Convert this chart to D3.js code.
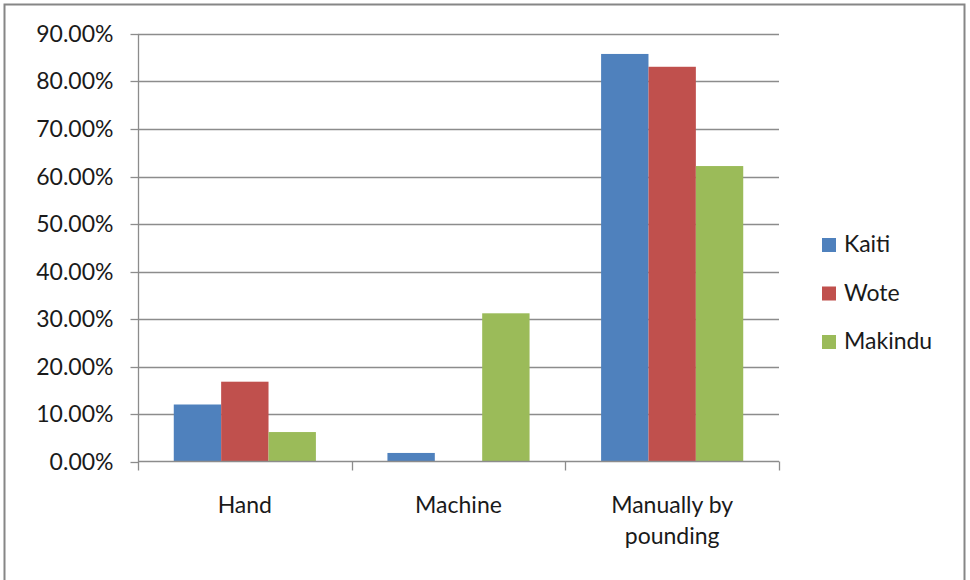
<!DOCTYPE html>
<html><head><meta charset="utf-8">
<script src="https://cdn.jsdelivr.net/npm/d3@7"></script>
<style>
html,body{margin:0;padding:0;background:#fff;}
svg text{font-family:Lato,"Open Sans",sans-serif;fill:#1a1a1a;}
</style></head>
<body>
<script>
const categories = ["Hand", "Machine", "Manually by pounding"];
const categoryLines = [["Hand"], ["Machine"], ["Manually by", "pounding"]];
const seriesNames = ["Kaiti", "Wote", "Makindu"];
const kaiti = [0.12, 0.018, 0.858];
const wote = [0.168, 0, 0.831];
const makindu = [0.062, 0.312, 0.622];
const colors = ["#4F81BD", "#C0504D", "#9BBB59"];
const yTicks = [0, 0.1, 0.2, 0.3, 0.4, 0.5, 0.6, 0.7, 0.8, 0.9];

const seriesValues = [kaiti, wote, makindu];
const W = 970, H = 580;
const svg = d3.select("body").append("svg").attr("width", W).attr("height", H);

// outer frame
svg.append("rect").attr("x", 4.5).attr("y", 4.5).attr("width", 960).attr("height", 600)
  .attr("fill", "#fff").attr("stroke", "#868686").attr("stroke-width", 2);

const x0 = d3.scaleBand().domain(categories).range([138, 779]).paddingInner(0).paddingOuter(0);
const x1 = d3.scaleBand().domain(seriesNames).range([0, x0.bandwidth()]).paddingInner(0).paddingOuter(0.755);
const y = d3.scaleLinear().domain([0, 0.9]).range([461.5, 34]);

// gridlines
svg.append("g").selectAll("line").data(yTicks.slice(1)).join("line")
  .attr("x1", 138).attr("x2", 779)
  .attr("y1", d => Math.round(y(d)) + 0.5).attr("y2", d => Math.round(y(d)) + 0.5)
  .attr("stroke", "#8c8c8c").attr("stroke-width", 1.3);

// bars
const groups = svg.append("g").selectAll("g").data(categories).join("g")
  .attr("transform", d => `translate(${x0(d)},0)`);
groups.selectAll("rect").data((c, i) => seriesNames.map((s, j) => ({s, v: seriesValues[j][i], j})))
  .join("rect")
  .attr("x", d => x1(d.s)).attr("width", x1.bandwidth())
  .attr("y", d => y(d.v)).attr("height", d => y(0) - y(d.v))
  .attr("fill", d => colors[d.j]);

// y axis
const yAxis = d3.axisLeft(y).tickValues(yTicks).tickFormat(d => (d * 100).toFixed(2) + "%").tickSize(8).tickPadding(17);
const gy = svg.append("g").attr("transform", "translate(138.5,0)").call(yAxis);
gy.select(".domain").attr("stroke", "#8c8c8c").attr("stroke-width", 1.3).attr("d", "M0,34V461.5");
gy.selectAll(".tick line").attr("stroke", "#8c8c8c").attr("stroke-width", 1.3);
gy.selectAll(".tick text").style("font-size", "23px").attr("fill", "#1a1a1a");
gy.selectAll(".tick").attr("transform", d => `translate(0,${Math.round(y(d)) + 0.5})`);

// x axis
const xEdges = d3.scaleLinear().domain([0, categories.length]).range([138, 779]);
const gx = svg.append("g");
gx.append("line").attr("x1", 138).attr("x2", 779).attr("y1", 461.5).attr("y2", 461.5)
  .attr("stroke", "#8c8c8c").attr("stroke-width", 1.3);
gx.selectAll("line.tk").data(d3.range(categories.length + 1)).join("line").attr("class", "tk")
  .attr("x1", d => Math.round(xEdges(d)) + 0.5).attr("x2", d => Math.round(xEdges(d)) + 0.5)
  .attr("y1", 461.5).attr("y2", 470.5).attr("stroke", "#8c8c8c").attr("stroke-width", 1.3);
const lbl = gx.selectAll("text").data(categories).join("text")
  .attr("x", d => x0(d) + x0.bandwidth() / 2).attr("y", 512.5)
  .attr("text-anchor", "middle").style("font-size", "23px");
lbl.each(function(d, i) {
  const t = d3.select(this);
  categoryLines[i].forEach((line, k) => {
    t.append("tspan").attr("x", x0(d) + x0.bandwidth() / 2).attr("dy", k === 0 ? 0 : 31.5).text(line);
  });
});

// legend
const leg = svg.append("g").selectAll("g").data(seriesNames).join("g")
  .attr("transform", (d, i) => `translate(822,${252 + i * 48.5})`);
leg.append("rect").attr("x", 0).attr("y", -14).attr("width", 14).attr("height", 14)
  .attr("fill", (d, i) => colors[i]);
leg.append("text").attr("x", 22).attr("y", 0).style("font-size", "23px").text(d => d);
</script>
</body></html>
